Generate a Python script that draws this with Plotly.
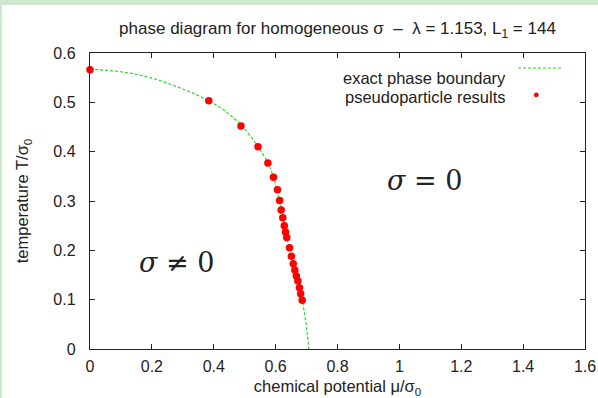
import plotly.graph_objects as go

# exact phase boundary
boundary_mu = [0.0, 0.1, 0.2, 0.3, 0.384, 0.45, 0.5, 0.543, 0.575, 0.593, 0.613, 0.632, 0.651, 0.672, 0.686, 0.695, 0.702, 0.707]
boundary_T = [0.567, 0.562, 0.549, 0.527, 0.503, 0.476, 0.446, 0.410, 0.377, 0.348, 0.301, 0.237, 0.188, 0.138, 0.099, 0.065, 0.032, 0.0]

# pseudoparticle results
pp_mu = [0.0, 0.384, 0.488, 0.543, 0.575, 0.593, 0.606, 0.613, 0.618, 0.623, 0.628, 0.632,
         0.636, 0.645, 0.651, 0.657, 0.662, 0.667, 0.672, 0.677, 0.681, 0.686]
pp_T = [0.566, 0.503, 0.452, 0.410, 0.377, 0.348, 0.323, 0.301, 0.282, 0.266, 0.250, 0.237,
        0.226, 0.205, 0.188, 0.173, 0.160, 0.148, 0.138, 0.124, 0.112, 0.099]

x_ticks = [0, 0.2, 0.4, 0.6, 0.8, 1, 1.2, 1.4, 1.6]
x_labels = ["0", "0.2", "0.4", "0.6", "0.8", "1", "1.2", "1.4", "1.6"]
y_ticks = [0, 0.1, 0.2, 0.3, 0.4, 0.5, 0.6]
y_labels = ["0", "0.1", "0.2", "0.3", "0.4", "0.5", "0.6"]

font_family = "Liberation Sans, Arial, sans-serif"
band = "#cde8cd"
green = "#22dd22"

W, H = 598, 398
L, R, T, B = 90, 13, 53, 49
PW, PH = W - L - R, H - T - B


def px(x):
    return (x - L) / PW


def py(y):
    return (H - B - y) / PH


fig = go.Figure()
fig.add_trace(go.Scatter(x=boundary_mu, y=boundary_T, mode="lines", line_shape="spline",
                         line=dict(color=green, width=1.2, dash="3px,2px"),
                         name="exact phase boundary", showlegend=False, cliponaxis=False))
fig.add_trace(go.Scatter(x=pp_mu, y=pp_T, mode="markers",
                         marker=dict(color="#ff0000", size=7.5, symbol="circle", line=dict(width=0)),
                         name="pseudoparticle results", showlegend=False, cliponaxis=False))

axis_common = dict(showline=True, linecolor="#222222", linewidth=1.4, mirror="ticks",
                   ticks="inside", ticklen=5, tickcolor="#222222", tickwidth=1.4,
                   showgrid=False, zeroline=False, automargin=False,
                   tickfont=dict(family=font_family, size=16, color="#222222"))

fig.update_layout(
    width=W, height=H,
    margin=dict(l=L, r=R, t=T, b=B, autoexpand=False),
    paper_bgcolor="white", plot_bgcolor="white",
    showlegend=False,
    xaxis=dict(range=[0, 1.6], tickvals=x_ticks, ticktext=x_labels, ticklabelstandoff=3,
               title=dict(text="chemical potential μ/σ<sub>0</sub>",
                          font=dict(family=font_family, size=16.5, color="#222222"), standoff=6),
               **axis_common),
    yaxis=dict(range=[0, 0.6], tickvals=y_ticks, ticktext=y_labels, ticklabelstandoff=10,
               title=dict(text="temperature T/σ<sub>0</sub>",
                          font=dict(family=font_family, size=16.5, color="#222222"), standoff=20),
               **axis_common),
    title=dict(text="phase diagram for homogeneous σ &nbsp;–&nbsp; λ = 1.153, L<sub>1</sub> = 144",
               font=dict(family=font_family, size=17, color="#222222"), automargin=False,
               x=0.5, xref="paper", xanchor="center", y=1 - 28 / H, yanchor="middle"),
)

# decorative frame bands
fig.add_shape(type="rect", xref="paper", yref="paper", x0=px(0), x1=px(W), y0=py(5), y1=py(-2),
              fillcolor=band, line=dict(width=0), layer="below")
fig.add_shape(type="rect", xref="paper", yref="paper", x0=px(-2), x1=px(2), y0=py(H), y1=py(0),
              fillcolor=band, line=dict(width=0), layer="below")

# region labels
fig.add_annotation(x=1.08, y=0.341, text="<i>σ</i> = 0", showarrow=False,
                   font=dict(family="DejaVu Serif, serif", size=27, color="#222222"))
fig.add_annotation(x=0.281, y=0.176, text="<i>σ</i> ≠ 0", showarrow=False,
                   font=dict(family="DejaVu Serif, serif", size=27, color="#222222"))

# gnuplot-style key
fig.add_annotation(xref="paper", yref="paper", x=px(507), y=py(68), xanchor="right",
                   text="exact phase boundary", showarrow=False, borderpad=0,
                   font=dict(family=font_family, size=16.5, color="#222222"))
fig.add_annotation(xref="paper", yref="paper", x=px(507), y=py(86.5), xanchor="right",
                   text="pseudoparticle results", showarrow=False, borderpad=0,
                   font=dict(family=font_family, size=16.5, color="#222222"))
fig.add_shape(type="line", xref="paper", yref="paper", x0=px(518), x1=px(563),
              y0=py(68), y1=py(68), line=dict(color=green, width=1.2, dash="3px,2px"))
fig.add_annotation(xref="paper", yref="paper", x=px(541), y=py(86.5),
                   text="●", showarrow=False, borderpad=0,
                   font=dict(family=font_family, size=11, color="#ff0000"))

fig.write_html("out.html", config={"displayModeBar": False},
               post_script="document.body.style.margin='0';document.body.style.overflow='hidden';")
